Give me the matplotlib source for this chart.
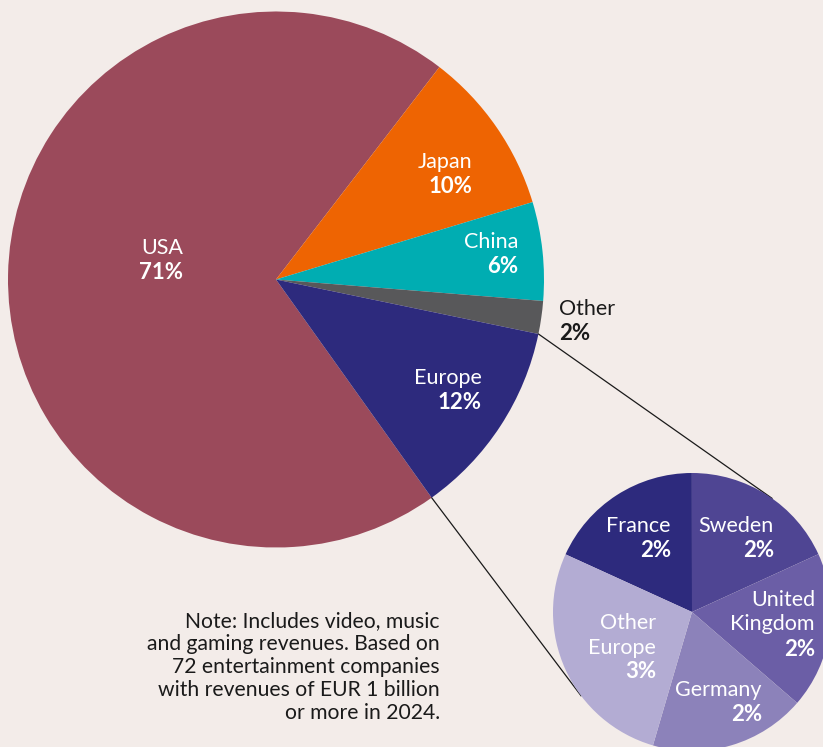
import numpy as np
import matplotlib
matplotlib.use("Agg")
import matplotlib.pyplot as plt

# ---- data ----
main_labels = ["USA", "Japan", "China", "Other", "Europe"]
main_values = [71, 10, 6, 2, 12]
main_colors = ["#9b4a5b", "#ee6402", "#00adb2", "#58585a", "#2d2a7d"]

eu_labels = ["France", "Sweden", "United\nKingdom", "Germany", "Other\nEurope"]
eu_values = [2, 2, 2, 2, 3]
eu_colors = ["#2d2a7d", "#4f4593", "#6b5ea6", "#8c82ba", "#b3acd3"]

note = ("Note: Includes video, music\nand gaming revenues. Based on\n"
        "72 entertainment companies\nwith revenues of EUR 1 billion\nor more in 2024.")

BG = "#f3ece9"
W, H = 823, 747
FONT = "Lato"

fig = plt.figure(figsize=(W / 100, H / 100), dpi=100, facecolor=BG)
ax = fig.add_axes([0, 0, 1, 1])
ax.set_facecolor(BG)

# main pie (pixel coordinates, y up)
mc = (276, H - 279.5)
mr = 268
mw, _ = ax.pie(main_values, colors=main_colors, startangle=305.5, counterclock=False,
               center=mc, radius=mr, frame=True,
               wedgeprops=dict(linewidth=0, antialiased=True))

# Europe breakdown pie
sc = (692, H - 612)
sr = 139
sw, _ = ax.pie(eu_values, colors=eu_colors, startangle=155.5, counterclock=False,
               center=sc, radius=sr, frame=True,
               wedgeprops=dict(linewidth=0, antialiased=True))

ax.set_xlim(0, W)
ax.set_ylim(0, H)
ax.set_aspect("equal")
ax.axis("off")

# connector lines: tangents from the Europe wedge edge points to the small pie
eu_w = mw[4]
a1 = np.deg2rad(eu_w.theta1)
a2 = np.deg2rad(eu_w.theta2)
p_top = np.array([mc[0] + mr * np.cos(a2), mc[1] + mr * np.sin(a2)])
p_bot = np.array([mc[0] + mr * np.cos(a1), mc[1] + mr * np.sin(a1)])

def tangent(p, sign):
    c = np.array(sc)
    v = p - c
    d = np.linalg.norm(v)
    ang = np.arccos(sr / d) * sign
    u = v / d
    rot = np.array([[np.cos(ang), -np.sin(ang)], [np.sin(ang), np.cos(ang)]])
    return c + sr * rot @ u

t_top = tangent(p_top, -1)
t_bot = tangent(p_bot, 1)
ax.plot([p_top[0], t_top[0]], [p_top[1], t_top[1]], color="#1a1a1a", lw=0.9, zorder=0)
ax.plot([p_bot[0], t_bot[0]], [p_bot[1], t_bot[1]], color="#1a1a1a", lw=0.9, zorder=0)

# labels
FS = 15.5
LS = 24.5

def label(x, y_first, name, val, color, ha="right"):
    lines = name.split("\n")
    for i, ln in enumerate(lines):
        ax.text(x, H - (y_first + i * LS), ln, ha=ha, va="center", color=color,
                fontsize=FS, family=FONT, fontweight="normal")
    ax.text(x, H - (y_first + len(lines) * LS), f"{val}%", ha=ha, va="center",
            color=color, fontsize=FS + 0.5, family=FONT, fontweight="bold")

main_pos = {"USA": (183, 248), "Japan": (472, 162), "China": (518, 242),
            "Europe": (482, 378)}
for lab, val in zip(main_labels, main_values):
    if lab == "Other":
        label(559, 309, lab, val, "#1a1a1a", ha="left")
    else:
        x, y = main_pos[lab]
        label(x, y, lab, val, "white")

eu_pos = {"France": (671, 526), "Sweden": (774, 526), "United\nKingdom": (815, 600),
          "Germany": (762, 690), "Other\nEurope": (656, 623)}
for lab, val in zip(eu_labels, eu_values):
    x, y = eu_pos[lab]
    label(x, y, lab, val, "white")

ax.text(440, H - 667, note, ha="right", va="center", color="#1a1a1a",
        fontsize=15.2, family=FONT, linespacing=1.2)

fig.savefig("out.png", dpi=100, facecolor=BG)
